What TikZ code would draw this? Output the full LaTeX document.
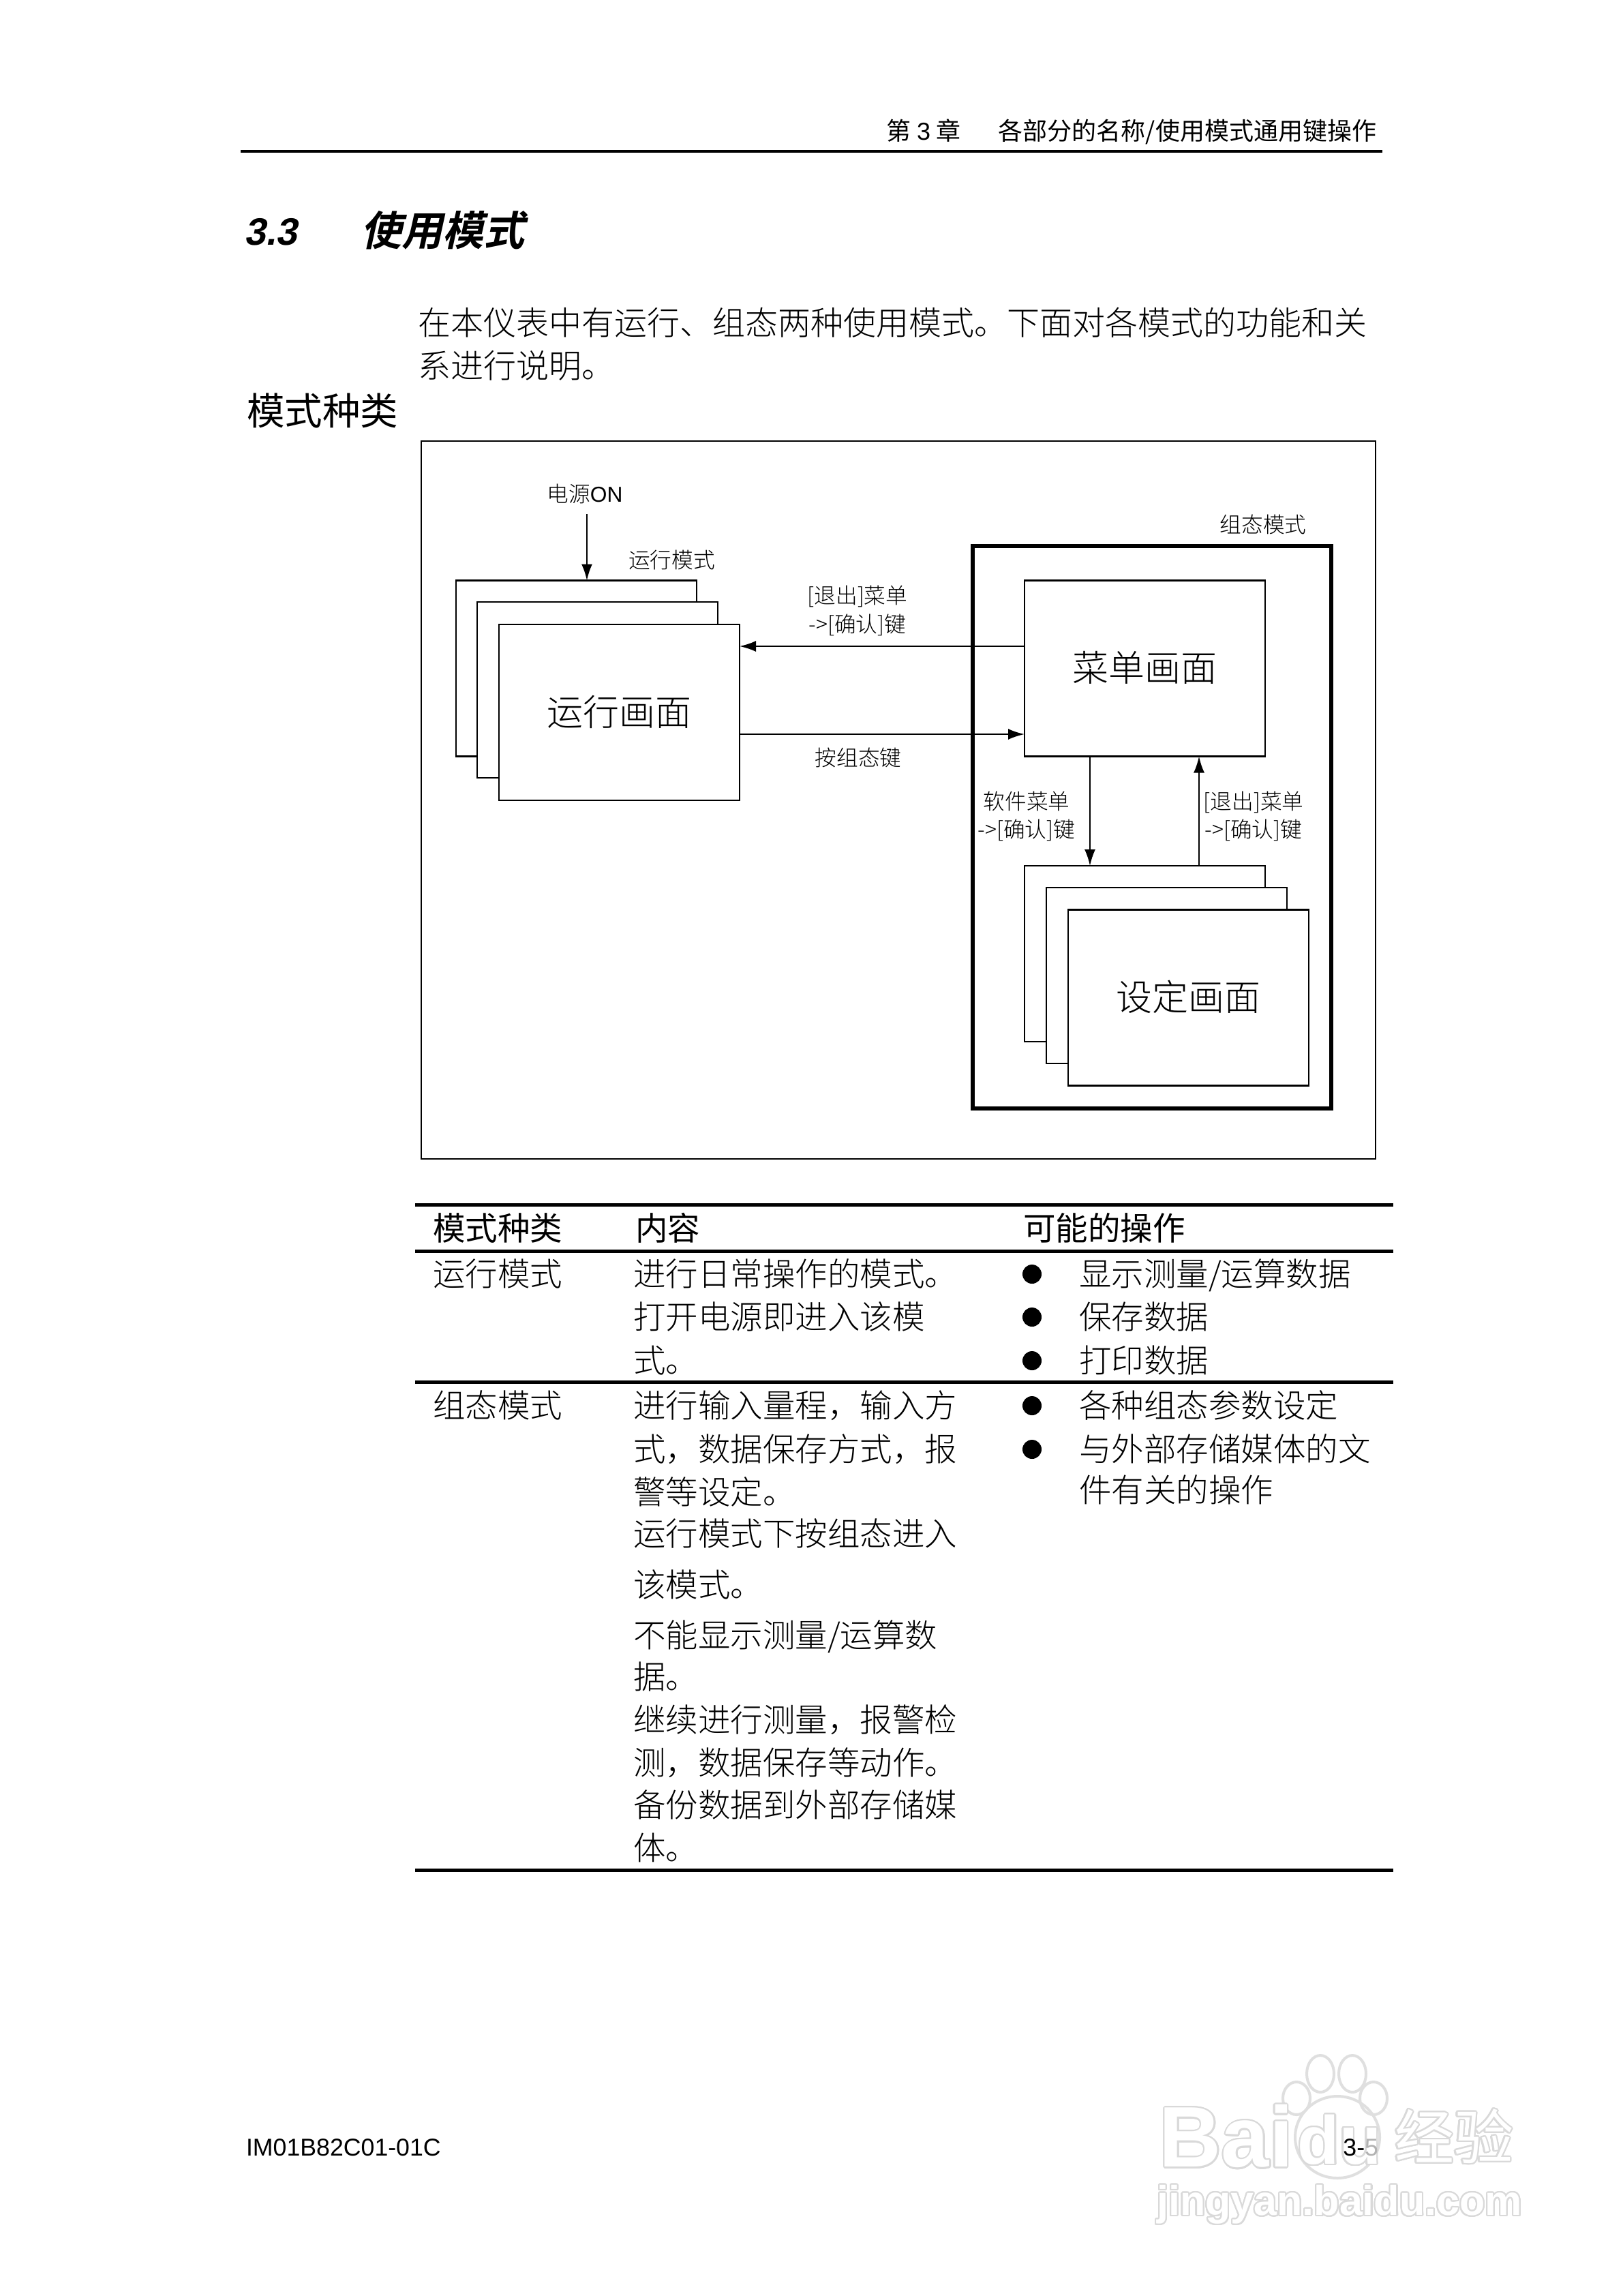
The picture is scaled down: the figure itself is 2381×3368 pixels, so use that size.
\documentclass[tikz,border=0pt]{standalone}
\usepackage{fontspec}
\usepackage[copies]{contour}
\usetikzlibrary{arrows.meta}
\setmainfont{Liberation Sans}
\newfontfamily\cjk[UprightFont=* Light]{Noto Sans CJK SC}
\newfontfamily\cjkh{Noto Sans CJK SC}
\newfontfamily\cjkt[FakeSlant=0.22,UprightFont=* Bold]{Noto Sans CJK SC}
\newfontfamily\lat{Liberation Sans}
\newfontfamily\latt[FakeSlant=0.2,UprightFont=* Bold]{Liberation Sans}
\contourlength{2.2pt}\contournumber{24}
\tikzset{
  x=1pt,y=-1pt,
  sz/.style={text height=#1*0.86pt,text depth=#1*0.14pt},
  txt/.style={inner sep=0pt,outer sep=0pt,anchor=west},
  ctr/.style={txt,anchor=center},
  tb/.style={txt,sz=47.5,font=\cjk\fontsize{47.5}{47.5}\selectfont},
  th/.style={txt,sz=47.5,font=\cjkh\fontsize{47.5}{47.5}\selectfont},
  lab/.style={ctr,sz=31.7,font=\cjk\fontsize{31.7}{31.7}\selectfont},
  big/.style={ctr,sz=53,font=\cjk\fontsize{53}{53}\selectfont},
  body/.style={txt,sz=48,font=\cjk\fontsize{48}{48}\selectfont},
  rule/.style={line width=5pt,black},
  scr/.style={draw=black,fill=white,line width=2.6pt,inner sep=0pt,outer sep=0pt,
    minimum width=353pt,minimum height=258pt,anchor=north west},
  arr/.style={line width=2.2pt,-{Latex[length=24pt,width=16pt]}},
  bul/.style={circle,fill=black,inner sep=0pt,outer sep=0pt,minimum size=28pt},
  wm/.style={inner sep=0pt,outer sep=0pt,anchor=center},
  paw/.style={draw=gray!25,line width=4pt},
}
\begin{document}
\begin{tikzpicture}
\useasboundingbox[fill=white] (0,0) rectangle (2381,3368);
% watermark
\draw[paw] (1937,3042) ellipse [x radius=20pt,y radius=27pt];
\draw[paw] (1984,3042) ellipse [x radius=20pt,y radius=27pt];
\draw[paw] (1902,3078) ellipse [x radius=20pt,y radius=24pt];
\draw[paw] (2015,3078) ellipse [x radius=20pt,y radius=24pt];
\draw[paw] (1962,3135) ellipse [x radius=62pt,y radius=60pt];
\node[wm] (wmbai) at (1799,3135) {\fontsize{126}{126}\selectfont\bfseries\contour{gray!30}{\textcolor{white}{Bai}}};
\node[wm] (wmdu) at (1965,3140) {\fontsize{100}{100}\selectfont\bfseries\contour{gray!30}{\textcolor{white}{du}}};
\node[wm] (wmjy) at (2133,3135) {\cjkh\fontsize{87}{87}\selectfont\contour{gray!30}{\textcolor{white}{经验}}};
\node[wm] (wmurl) at (1965,3235) {\fontsize{61}{61}\selectfont\bfseries\contour{gray!30}{\textcolor{white}{jingyan.baidu.com}}};
% header
\node[ctr,sz=36,font=\cjkh\fontsize{36}{36}\selectfont] (hd1) at (1355,193) {第 {\lat 3} 章};
\node[ctr,sz=36,font=\cjkh\fontsize{36}{36}\selectfont] (hd2) at (1742,193) {各部分的名称/使用模式通用键操作};
\coordinate (hrl) at (353,222);\coordinate (hrr) at (2028,222);
\draw[line width=3.6pt] (hrl) -- (hrr);
% title
\node[txt,sz=56,font=\latt\fontsize{56}{56}\selectfont] (tn) at (358,339) {3.3};
\node[txt,sz=60,font=\cjkt\fontsize{60}{60}\selectfont] (tt) at (529,339) {使用模式};
% intro
\node[body] (in1) at (613,474) {在本仪表中有运行、组态两种使用模式。下面对各模式的功能和关};
\node[body] (in2) at (613,537) {系进行说明。};
\node[txt,sz=55.5,font=\cjkh\fontsize{55.5}{55.5}\selectfont] (sec) at (362,604) {模式种类};
% frame
\node[draw=black,line width=2.4pt,inner sep=0pt,minimum width=1400pt,minimum height=1053.5pt,anchor=north west] (frame) at (617,645.5) {};
% config box
\node[draw=black,line width=5.5pt,inner sep=0pt,minimum width=526pt,minimum height=825pt,anchor=north west] (cfg) at (1424,798) {};
\node[lab] (cfgl) at (1853,770) {组态模式};
% run boxes
\node[scr] (r1) at (669,851.5) {};
\node[scr] (r2) at (700,883) {};
\node[scr] (r3) at (732,916) {};
\node[big] at (r3.center) (rt) {运行画面};
% menu
\node[scr] (menu) at (1503,851.5) {};
\node[big] at (menu.center) (mt) {菜单画面};
% setting
\node[scr] (s1) at (1503,1270) {};
\node[scr] (s2) at (1535,1302) {};
\node[scr] (s3) at (1567,1334.5) {};
\node[big] at (s3.center) (st) {设定画面};
% arrows
\coordinate (pw) at (861,754);
\coordinate (ya) at (0,948);\coordinate (yb) at (0,1077);
\coordinate (xa) at (1599,0);\coordinate (xb) at (1759,0);
\draw[arr] (pw) -- (pw |- r1.north);
\draw[arr] (menu.west |- ya) -- (r3.east |- ya);
\draw[arr] (r3.east |- yb) -- (menu.west |- yb);
\draw[arr] (xa |- menu.south) -- (xa |- s1.north);
\draw[arr] (xb |- s1.north) -- (xb |- menu.south);
% labels
\node[lab] (pon) at (858,725) {电源{\lat ON}};
\node[lab] (runl) at (985.5,822.5) {运行模式};
\node[lab] (l1a) at (1258,874) {[退出]菜单};
\node[lab] (l1b) at (1258,916) {->[确认]键};
\node[lab] (l2) at (1259,1112) {按组态键};
\node[lab] (l3a) at (1506,1176) {软件菜单};
\node[lab] (l3b) at (1506,1217) {->[确认]键};
\node[lab] (l4a) at (1839,1176) {[退出]菜单};
\node[lab] (l4b) at (1839,1217) {->[确认]键};
% table rules
\coordinate (tl) at (609,0);\coordinate (tr) at (2044,0);
\coordinate (y0) at (0,1767.5);\coordinate (y1) at (0,1835);\coordinate (y2) at (0,2027.5);\coordinate (y3) at (0,2743);
\draw[rule] (tl |- y0) -- (tr |- y0);
\draw[rule] (tl |- y1) -- (tr |- y1);
\draw[rule] (tl |- y2) -- (tr |- y2);
\draw[rule] (tl |- y3) -- (tr |- y3);
% table header
\node[th] (h1) at (635,1802) {模式种类};
\node[th] (h2) at (932,1802) {内容};
\node[th] (h3) at (1501,1802) {可能的操作};
% row 1
\node[tb] (a1) at (635,1869) {运行模式};
\node[tb] (b1) at (929,1869) {进行日常操作的模式。};
\node[tb] (b2) at (929,1932) {打开电源即进入该模};
\node[tb] (b3) at (929,1996) {式。};
\node[bul] (d1) at (1514,1869) {};
\node[bul] (d2) at (1514,1932) {};
\node[bul] (d3) at (1514,1996) {};
\node[tb] (c1) at (1583,1869) {显示测量/运算数据};
\node[tb] (c2) at (1583,1932) {保存数据};
\node[tb] (c3) at (1583,1996) {打印数据};
% row 2
\node[tb] (a2) at (635,2062) {组态模式};
\node[tb] (e1) at (929,2062) {进行输入量程，输入方};
\node[tb] (e2) at (929,2126) {式，数据保存方式，报};
\node[tb] (e3) at (929,2189) {警等设定。};
\node[tb] (e4) at (929,2250.5) {运行模式下按组态进入};
\node[tb] (e5) at (929,2325) {该模式。};
\node[tb] (e6) at (929,2399) {不能显示测量/运算数};
\node[tb] (e7) at (929,2460) {据。};
\node[tb] (e8) at (929,2523.5) {继续进行测量，报警检};
\node[tb] (e9) at (929,2586.5) {测，数据保存等动作。};
\node[tb] (e10) at (929,2648) {备份数据到外部存储媒};
\node[tb] (e11) at (929,2711) {体。};
\node[bul] (d4) at (1514,2062) {};
\node[bul] (d5) at (1514,2126) {};
\node[tb] (f1) at (1583,2062) {各种组态参数设定};
\node[tb] (f2) at (1583,2126) {与外部存储媒体的文};
\node[tb] (f3) at (1583,2186) {件有关的操作};
% footer
\node[txt,sz=35.7,font=\lat\fontsize{35.7}{35.7}\selectfont] (fl) at (361,3150) {IM01B82C01-01C};
\node[txt,sz=35.7,anchor=east,font=\lat\fontsize{35.7}{35.7}\selectfont] (fr) at (2022,3150) {3-\textcolor{gray!60}{5}};
\end{tikzpicture}
\end{document}
